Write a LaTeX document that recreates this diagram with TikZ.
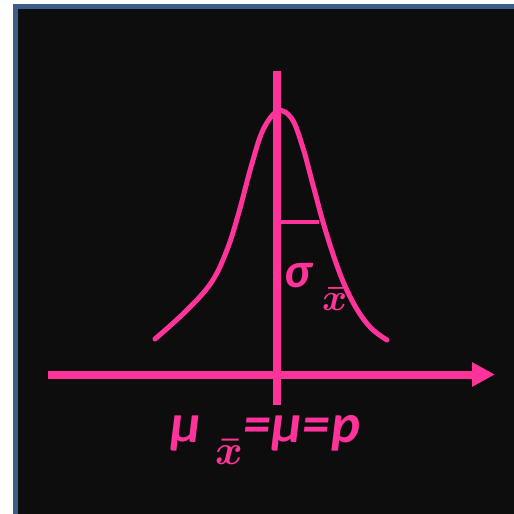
\RequirePackage{fix-cm}
\documentclass[tikz,border=0pt]{standalone}
\usepackage{fontspec}
\setmainfont{Carlito}
\usetikzlibrary{arrows.meta}
\definecolor{pinkc}{RGB}{255,51,153}
\definecolor{bgc}{RGB}{13,13,13}
\definecolor{framec}{RGB}{58,94,140}
\tikzset{
  axisline/.style={draw=pinkc, line width=8pt},
  curveline/.style={draw=pinkc, line width=5pt, line cap=round},
  lbl/.style={text=pinkc, inner sep=0pt, outer sep=0pt, font=\fontsize{55}{57}\selectfont\bfseries\itshape},
  sublbl/.style={text=pinkc, inner sep=0pt, outer sep=0pt}
}
\begin{document}
\begin{tikzpicture}[x=1pt,y=-1pt]
\useasboundingbox (0,0) rectangle (514,514);
\fill[white] (0,0) rectangle (514,514);
\fill[framec] (13,4) rectangle (514,514);
\fill[bgc] (18,9) rectangle (514,514);
% axes
\coordinate (vtop) at (276.5,71);
\coordinate (vbot) at (276.5,405);
\coordinate (hl) at (48,374.5);
\coordinate (hr) at (495,374.5);
\draw[axisline] (vtop) -- (vbot);
\draw[axisline, -{Triangle[length=23pt,width=23pt]}] (hl) -- (hr);
% bell curve
\draw[curveline] plot[smooth, tension=0.6] coordinates {(155,339) (185,312) (211,283) (227,250) (239,212) (251,167) (263,130) (278,111) (292,119) (303,148) (313,185) (323,222) (334,257) (345,286) (358,311) (372,329) (387,340)};
% sigma marker
\coordinate (ml) at (280,222);
\coordinate (mr) at (319,222);
\draw[draw=pinkc, line width=3.5pt] (ml) -- (mr);
% labels
\node[lbl, anchor=base west, font=\fontsize{50}{52}\selectfont\bfseries\itshape] (sig) at (284,287) {σ};
\node[sublbl, anchor=base west, font=\fontsize{38}{40}\selectfont\boldmath] (sigsub) at (322,310) {$\bar{x}$};
\node[lbl, anchor=base west] (mu1) at (170,442) {μ};
\node[sublbl, anchor=base west, font=\fontsize{42}{44}\selectfont\boldmath] (musub) at (215,464) {$\bar{x}$};
\node[lbl, anchor=base west] (rest) at (243,442) {=\kern1pt μ\kern1pt=\kern1pt p};
\end{tikzpicture}
\end{document}
